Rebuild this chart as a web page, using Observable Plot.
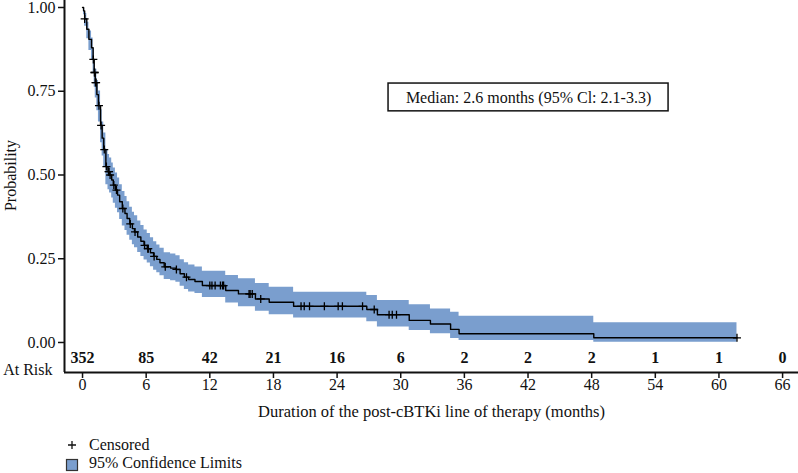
<!DOCTYPE html>
<html>
<head>
<meta charset="utf-8">
<script src="https://cdn.jsdelivr.net/npm/d3@7"></script>
<script src="https://cdn.jsdelivr.net/npm/@observablehq/plot@0.6"></script>
<style>
  html, body { margin: 0; padding: 0; background: #fff; }
  #wrap { position: relative; width: 798px; height: 473px; overflow: hidden; font-family: "Liberation Serif", "DejaVu Serif", serif; }
  #legend { position: absolute; left: 0; top: 0; width: 798px; height: 473px; pointer-events: none; }
  .leg { position: absolute; font-size: 16px; line-height: 20px; color: #111; white-space: nowrap; }
</style>
</head>
<body>
<div id="wrap"><div id="chart"></div><div id="legend"></div></div>
<script>
// ---- Data ----
// Kaplan-Meier step function (time in months, survival probability, 95% CI)
const times = [0, 0.1, 0.2, 0.4, 0.6, 0.85, 1.0, 1.1, 1.2, 1.35, 1.5, 1.7, 1.85, 2.0, 2.2, 2.4, 2.55, 2.75, 2.9, 3.1, 3.3, 3.5, 3.75, 4.0, 4.2, 4.45, 4.7, 4.9, 5.2, 5.5, 5.8, 6.1, 6.4, 6.7, 7.0, 7.3, 7.7, 8.3, 8.8, 9.2, 9.6, 10.0, 10.6, 11.3, 13.5, 14.7, 16.3, 17.6, 19.9, 26.8, 27.8, 30.8, 32.8, 34.7, 35.5, 48.2, 61.7];
const surv  = [1.000, 0.990, 0.966, 0.935, 0.905, 0.880, 0.845, 0.806, 0.776, 0.740, 0.707, 0.648, 0.610, 0.576, 0.525, 0.510, 0.500, 0.485, 0.470, 0.455, 0.440, 0.420, 0.400, 0.385, 0.370, 0.354, 0.340, 0.330, 0.315, 0.302, 0.290, 0.280, 0.268, 0.257, 0.248, 0.238, 0.226, 0.222, 0.218, 0.205, 0.195, 0.188, 0.182, 0.170, 0.155, 0.145, 0.130, 0.120, 0.108, 0.0985, 0.083, 0.066, 0.055, 0.039, 0.026, 0.014, 0.014];
const lower = [1.000, 0.978, 0.944, 0.907, 0.872, 0.843, 0.804, 0.762, 0.730, 0.692, 0.658, 0.596, 0.557, 0.522, 0.471, 0.456, 0.446, 0.431, 0.416, 0.401, 0.387, 0.367, 0.348, 0.334, 0.320, 0.305, 0.292, 0.283, 0.269, 0.257, 0.246, 0.237, 0.226, 0.216, 0.208, 0.199, 0.188, 0.184, 0.180, 0.168, 0.158, 0.151, 0.146, 0.134, 0.118, 0.107, 0.093, 0.083, 0.073, 0.062, 0.046, 0.036, 0.026, 0.012, 0.006, 0.001, 0.001];
const upper = [1.000, 0.998, 0.982, 0.956, 0.930, 0.909, 0.878, 0.843, 0.816, 0.782, 0.751, 0.695, 0.658, 0.625, 0.576, 0.561, 0.551, 0.536, 0.521, 0.506, 0.491, 0.471, 0.451, 0.436, 0.420, 0.404, 0.389, 0.378, 0.363, 0.349, 0.336, 0.325, 0.313, 0.301, 0.291, 0.281, 0.268, 0.264, 0.259, 0.247, 0.238, 0.231, 0.225, 0.213, 0.200, 0.190, 0.176, 0.165, 0.150, 0.140, 0.125, 0.113, 0.100, 0.090, 0.078, 0.059, 0.059];

// Censored observations
const censorTimes = [0.2, 1.02, 1.12, 1.15, 1.22, 1.28, 1.55, 1.75, 2.05, 2.25, 2.45, 2.5, 2.6, 2.95, 3.2, 3.8, 4.5, 4.95, 5.85, 6.15, 6.2, 6.75, 7.8, 8.85, 9.8, 12.0, 12.2, 12.5, 13.0, 13.2, 13.3, 15.7, 15.8, 16.0, 16.8, 20.6, 20.9, 21.4, 22.8, 24.1, 24.5, 26.4, 27.5, 28.9, 29.2, 29.6, 61.7];
const censorSurv  = [0.966, 0.845, 0.806, 0.806, 0.776, 0.776, 0.707, 0.648, 0.576, 0.525, 0.510, 0.510, 0.500, 0.470, 0.455, 0.400, 0.354, 0.330, 0.290, 0.280, 0.280, 0.257, 0.226, 0.218, 0.195, 0.170, 0.170, 0.170, 0.170, 0.170, 0.170, 0.145, 0.145, 0.145, 0.130, 0.108, 0.108, 0.108, 0.108, 0.108, 0.108, 0.108, 0.0985, 0.083, 0.083, 0.083, 0.014];

// Number at risk
const riskTimes = [0, 6, 12, 18, 24, 30, 36, 42, 48, 54, 60, 66];
const atRisk    = [352, 85, 42, 21, 16, 6, 2, 2, 2, 1, 1, 0];

// Axis ticks and text
const xTicks = [0, 6, 12, 18, 24, 30, 36, 42, 48, 54, 60, 66];
const yTicks = [0, 0.25, 0.5, 0.75, 1];
const xLabel = "Duration of the post-cBTKi line of therapy (months)";
const yLabel = "Probability";
const medianText = "Median: 2.6 months (95% Cl: 2.1-3.3)";
const legendItems = ["Censored", "95% Confidence Limits"];

// ---- Build tables ----
const km = times.map((t, i) => ({t, s: surv[i], lo: lower[i], hi: upper[i]}));
const censors = censorTimes.map((t, i) => ({t, s: censorSurv[i]}));
const risk = riskTimes.map((t, i) => ({t, n: atRisk[i]}));

// ---- Layout ----
const W = 798, H = 425;
const xDomain = [-1.7, 67.5];
const yDomain = [-0.0896, 1.0209];
const bandColor = "#7a9ece";
const medianBox = {x1: 28.85, x2: 55.25, y1: 0.69, y2: 0.773};

const plusSymbol = {
  draw(ctx, size) {
    const r = Math.sqrt(size / Math.PI);
    ctx.moveTo(-r, 0); ctx.lineTo(r, 0);
    ctx.moveTo(0, -r); ctx.lineTo(0, r);
  }
};

const chart = Plot.plot({
  width: W,
  height: H,
  marginLeft: 64,
  marginRight: 0,
  marginTop: 0,
  marginBottom: H - 372,
  style: {fontFamily: "'Liberation Serif', 'DejaVu Serif', serif", fontSize: "16px", color: "#111", background: "#fff", overflow: "visible"},
  x: {domain: xDomain},
  y: {domain: yDomain},
  marks: [
    Plot.areaY(km, {x: "t", y1: "lo", y2: "hi", curve: "step-after", fill: bandColor, fillOpacity: 1}),
    Plot.line(km, {x: "t", y: "s", curve: "step-after", stroke: "#000", strokeWidth: 1.4}),
    Plot.dot(censors, {x: "t", y: "s", symbol: plusSymbol, r: 4, stroke: "#000", fill: "none", strokeWidth: 1.3}),
    Plot.ruleX([xDomain[0]], {stroke: "#111", strokeWidth: 2}),
    Plot.ruleY([yDomain[0]], {stroke: "#111", strokeWidth: 2}),
    Plot.axisX({ticks: xTicks, tickSize: 6, tickPadding: 0, label: null, fontSize: 16, strokeWidth: 1.5}),
    Plot.axisY({ticks: yTicks, tickSize: 6, tickPadding: 3, tickFormat: d3.format(".2f"), label: null, fontSize: 16, strokeWidth: 1.5}),
    Plot.text(risk, {x: "t", text: "n", frameAnchor: "bottom", dy: -10, fontWeight: "bold", fontSize: 16}),
    Plot.text(["At Risk"], {frameAnchor: "bottom-left", dx: -12, dy: 2, textAnchor: "end", fontSize: 16}),
    Plot.text([yLabel], {frameAnchor: "left", textAnchor: "middle", rotate: -90, dx: -54, dy: -11, fontSize: 16}),
    Plot.text([xLabel], {frameAnchor: "bottom", dy: 44, fontSize: 16.5}),
    Plot.rect([medianBox], {x1: "x1", x2: "x2", y1: "y1", y2: "y2", fill: "none", stroke: "#111", strokeWidth: 1.5}),
    Plot.text([medianText], {x: (medianBox.x1 + medianBox.x2) / 2, y: (medianBox.y1 + medianBox.y2) / 2, fontSize: 16})
  ]
});
document.getElementById("chart").appendChild(chart);

// ---- Legend (below the plot) ----
const legend = d3.select("#legend");
const l1 = legend.append("div").attr("class", "leg").style("left", "0px").style("top", "435px");
l1.append("svg").attr("width", 84).attr("height", 20).style("vertical-align", "top")
  .append("path").attr("d", "M68,10H76M72,6V14").attr("stroke", "#111").attr("stroke-width", 1.3).attr("fill", "none");
l1.append("span").style("position", "absolute").style("left", "89px").style("top", "0px").text(legendItems[0]);
const l2 = legend.append("div").attr("class", "leg").style("left", "0px").style("top", "453px");
l2.append("svg").attr("width", 84).attr("height", 20).style("vertical-align", "top")
  .append("rect").attr("x", 66.5).attr("y", 6.5).attr("width", 11).attr("height", 11)
  .attr("fill", bandColor).attr("stroke", "#333").attr("stroke-width", 1.2);
l2.append("span").style("position", "absolute").style("left", "89px").style("top", "0px").text(legendItems[1]);
</script>
</body>
</html>
